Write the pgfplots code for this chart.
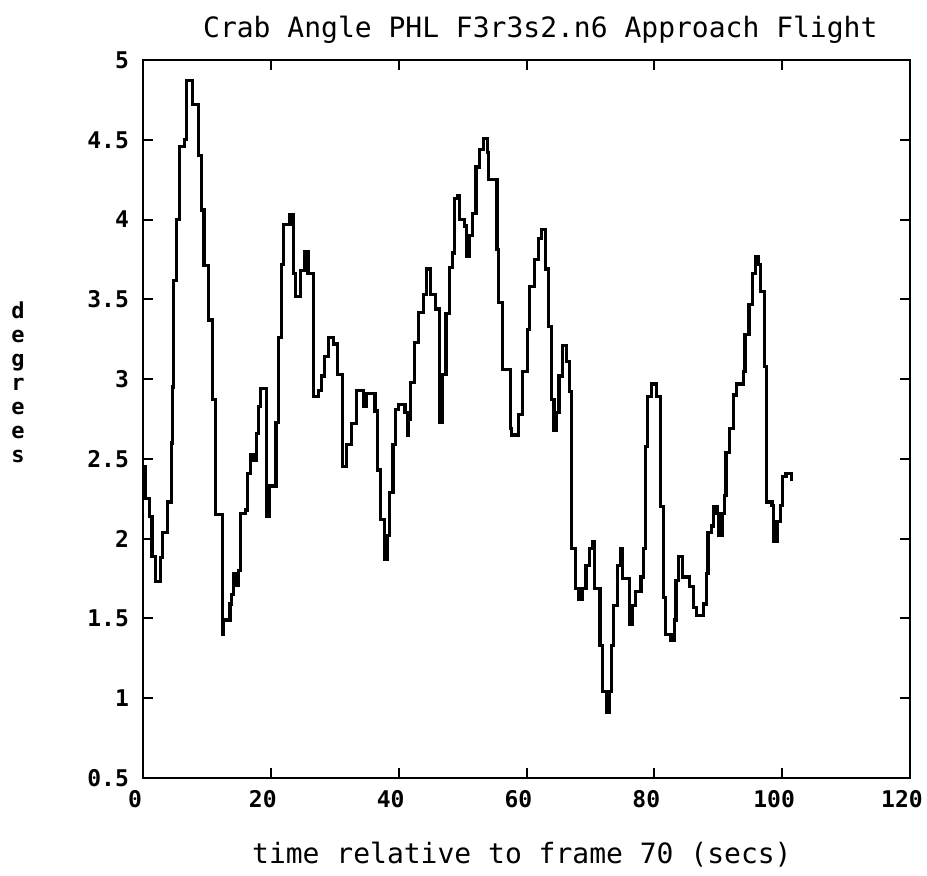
\documentclass[border=0pt]{standalone}
\usepackage{pgfplots}
\pgfplotsset{compat=1.18}
\usepackage{fontspec}
\setmainfont{DejaVu Sans Mono}
\pgfplotstableread{
x y
0 2.45
0.35 2.25
1.0 2.14
1.4 1.89
1.9 1.73
2.7 1.88
3.0 2.04
3.8 2.23
4.4 2.60
4.6 2.95
4.8 3.62
5.3 4.00
5.7 4.46
6.5 4.50
6.8 4.87
7.7 4.72
8.7 4.40
9.1 4.06
9.55 3.71
10.25 3.37
10.9 2.87
11.3 2.15
12.4 1.40
12.6 1.49
13.6 1.59
13.9 1.65
14.2 1.78
14.7 1.71
15.0 1.80
15.2 2.16
16.0 2.18
16.4 2.41
16.8 2.53
17.3 2.49
17.7 2.66
18.1 2.83
18.4 2.94
19.3 2.14
19.7 2.33
20.8 2.73
21.2 3.26
21.65 3.72
22.0 3.97
23.0 4.03
23.5 3.66
23.8 3.52
24.6 3.68
25.3 3.80
25.8 3.66
26.7 2.89
27.4 2.93
27.9 3.02
28.4 3.14
29.0 3.26
29.8 3.22
30.4 3.03
31.2 2.45
31.8 2.59
32.6 2.72
33.4 2.93
34.5 2.83
35.0 2.91
36.3 2.80
36.7 2.43
37.1 2.12
37.8 1.87
38.2 2.02
38.55 2.29
39.1 2.59
39.5 2.81
40.0 2.84
41.0 2.79
41.4 2.65
41.6 2.75
41.9 2.98
42.5 3.23
43.1 3.42
43.9 3.53
44.3 3.69
45.0 3.53
45.8 3.44
46.4 2.73
46.9 3.03
47.4 3.41
47.9 3.70
48.4 3.79
48.7 4.13
49.2 4.15
49.5 4.00
50.3 3.96
50.6 3.77
51.0 3.90
51.55 4.04
52.1 4.33
52.6 4.44
53.3 4.51
53.9 4.42
54.1 4.25
55.4 3.81
55.6 3.48
56.2 3.06
57.5 2.69
57.7 2.65
58.8 2.78
59.4 3.05
60.2 3.31
60.5 3.58
61.2 3.75
61.9 3.88
62.4 3.94
63.0 3.69
63.5 3.33
63.85 2.87
64.3 2.68
64.7 2.79
65.1 3.02
65.6 3.21
66.2 3.11
66.7 2.92
67.0 2.45
67.1 1.94
67.7 1.69
68.2 1.62
68.7 1.69
69.3 1.83
69.8 1.94
70.3 1.98
70.7 1.69
71.5 1.33
71.9 1.04
72.55 0.91
73.0 1.04
73.3 1.33
73.6 1.58
74.2 1.83
74.7 1.94
75.0 1.75
76.1 1.46
76.5 1.58
77.0 1.67
77.9 1.76
78.3 1.94
78.6 2.58
78.9 2.89
79.5 2.97
80.3 2.89
81.0 2.20
81.4 1.63
81.7 1.40
82.6 1.36
83.1 1.49
83.4 1.74
83.8 1.89
84.4 1.76
85.5 1.70
86.1 1.57
86.6 1.52
87.7 1.59
88.2 1.78
88.4 2.04
88.9 2.08
89.3 2.20
89.8 2.16
90.1 2.02
90.6 2.16
91.0 2.27
91.2 2.54
91.8 2.69
92.4 2.90
92.9 2.97
93.9 3.05
94.2 3.28
94.8 3.47
95.3 3.66
95.8 3.77
96.3 3.72
96.6 3.55
97.2 3.08
97.6 2.23
98.4 2.21
98.7 1.98
99.2 2.11
99.7 2.21
100.1 2.39
100.6 2.41
101.4 2.37
101.7 2.37
}\crabdata
\begin{document}
\begin{tikzpicture}
\begin{axis}[
  name=main,
  scale only axis,
  width=383.5pt, height=359pt,
  xmin=0, xmax=120, ymin=0.5, ymax=5,
  xtick={0,20,40,60,80,100,120},
  ytick={0.5,1,1.5,2,2.5,3,3.5,4,4.5,5},
  /pgf/number format/assume math mode=true,
  tick label style={font=\fontsize{11.5}{13}\selectfont\bfseries},
  xticklabel style={xshift=-4pt, yshift=-2.5pt},
  yticklabel style={xshift=-3.5pt},
  major tick length=5pt,
  tick style={line width=1pt, black},
  axis line style={line width=1.2pt},
  title={Crab Angle PHL F3r3s2.n6 Approach Flight},
  title style={at={(axis description cs:0.518,1)}, anchor=center, yshift=9pt, font=\fontsize{14}{16}\selectfont},
  xlabel={time relative to frame 70 (secs)},
  xlabel style={at={(axis description cs:0.494,0)}, anchor=center, yshift=-38.5pt, font=\fontsize{14}{16}\selectfont},
  ylabel={\begin{tabular}{@{}c@{}}d\\e\\g\\r\\e\\e\\s\end{tabular}},
  ylabel style={at={(axis description cs:-0.163,0.547)}, anchor=center, rotate=-90, font=\fontsize{11}{12}\selectfont\bfseries},
]
\addplot[const plot, black, line width=1.6pt] table[x=x, y=y] {\crabdata};
\end{axis}
\pgfresetboundingbox
\path[use as bounding box] ([shift={(-71.5pt,-48.5pt)}]main.south west) rectangle ([shift={(392pt,389pt)}]main.south west);
\end{tikzpicture}
\end{document}
